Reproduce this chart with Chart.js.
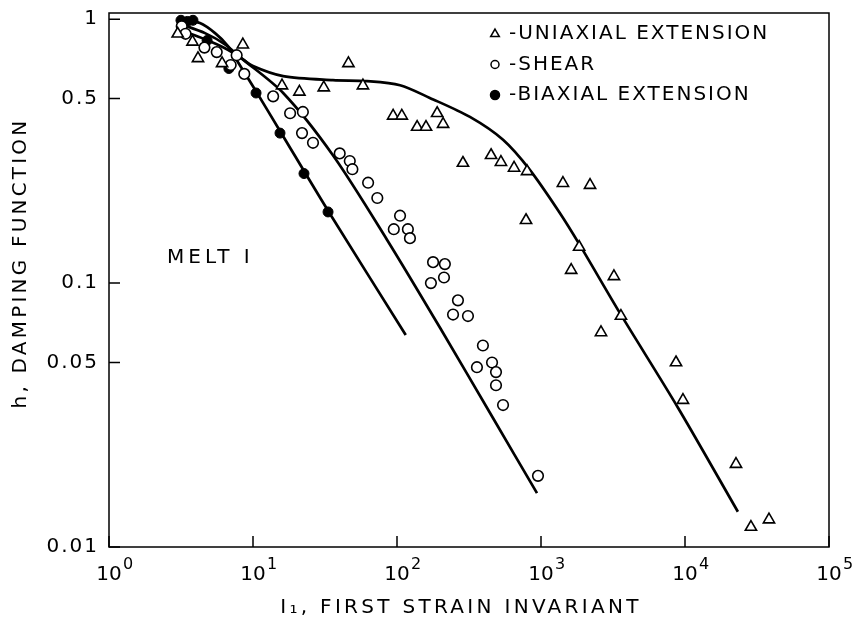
<!DOCTYPE html>
<html>
<head>
<meta charset="utf-8">
<script src="https://cdn.jsdelivr.net/npm/chart.js@4/dist/chart.umd.min.js"></script>
<style>
  html, body { margin: 0; padding: 0; background: #fff; }
  canvas { display: block; }
</style>
</head>
<body>
<canvas id="dampingChart" width="852" height="621"></canvas>
<script>
const uniaxialX = [3.0, 3.8, 4.15, 6.1, 8.5, 15.9, 21, 31, 46, 58, 94, 108, 138, 159, 190, 209, 287, 450, 527, 650, 800, 787, 1420, 2190, 1840, 1620, 3210, 3590, 2610, 8660, 9680, 22600, 28700, 38300];
const uniaxialY = [0.88, 0.82, 0.71, 0.68, 0.80, 0.56, 0.53, 0.55, 0.68, 0.56, 0.43, 0.43, 0.39, 0.39, 0.44, 0.40, 0.285, 0.305, 0.287, 0.273, 0.265, 0.173, 0.239, 0.235, 0.137, 0.112, 0.106, 0.075, 0.065, 0.050, 0.036, 0.0206, 0.0119, 0.0127];

const shearX = [3.2, 3.4, 4.6, 5.6, 7.0, 7.7, 8.7, 13.8, 18.1, 22.2, 21.9, 26.1, 40, 47, 49, 63, 73, 105, 95, 119, 123, 178, 215, 212, 172, 265, 245, 311, 395, 457, 359, 487, 487, 545, 953];
const shearY = [0.94, 0.88, 0.78, 0.75, 0.67, 0.73, 0.62, 0.51, 0.44, 0.445, 0.37, 0.34, 0.31, 0.29, 0.27, 0.24, 0.21, 0.18, 0.16, 0.16, 0.148, 0.120, 0.118, 0.105, 0.100, 0.086, 0.076, 0.075, 0.058, 0.050, 0.048, 0.046, 0.041, 0.0345, 0.0186];

const biaxialX = [3.16, 3.5, 3.83, 4.8, 6.8, 10.5, 15.4, 22.6, 33.2];
const biaxialY = [0.99, 0.98, 0.99, 0.83, 0.65, 0.525, 0.37, 0.26, 0.186];

// Fitted curves
const uniaxialFitX = [3.16, 4.64, 6.39, 8.12, 10.0, 16.2, 35.9, 61.9, 105, 169, 321, 545, 839, 1355, 1866, 3536, 8940, 23300];
const uniaxialFitY = [0.908, 0.839, 0.776, 0.718, 0.664, 0.608, 0.587, 0.582, 0.562, 0.503, 0.426, 0.349, 0.268, 0.184, 0.139, 0.0769, 0.0337, 0.0136];
const shearFitX = [3.16, 4.64, 6.39, 8.12, 16.2, 35.9, 85.2, 199, 464, 938];
const shearFitY = [0.957, 0.885, 0.803, 0.718, 0.525, 0.305, 0.146, 0.0677, 0.0308, 0.0160];
const biaxialFitX = [3.16, 4.28, 5.45, 6.7, 7.87, 10.5, 15.4, 33.2, 115];
const biaxialFitY = [1.0, 0.966, 0.885, 0.791, 0.687, 0.533, 0.377, 0.188, 0.0636];

// Axis ticks
const xTicks = [1, 10, 100, 1000, 10000, 100000];
const xTickExponents = ['0', '1', '2', '3', '4', '5'];
const yTicks = [0.01, 0.05, 0.1, 0.5, 1];
const yTickLabels = ['0.01', '0.05', '0.1', '0.5', '1'];

const legendLabels = ['-UNIAXIAL EXTENSION', '-SHEAR', '-BIAXIAL EXTENSION'];

const FONT = '"DejaVu Sans", sans-serif';

function toPoints(xs, ys) {
  return xs.map((x, i) => ({ x: x, y: ys[i] }));
}

function fitLine(xs, ys) {
  return {
    type: 'line',
    data: toPoints(xs, ys),
    borderColor: '#000',
    borderWidth: 2.7,
    pointRadius: 0,
    fill: false,
    tension: 0.3,
    order: 2,
  };
}

const markerSets = [
  { label: 'Uniaxial', data: toPoints(uniaxialX, uniaxialY), pointStyle: 'triangle', pointRadius: 6.5, backgroundColor: '#fff', borderColor: '#000', pointBorderWidth: 1.6 },
  { label: 'Shear', data: toPoints(shearX, shearY), pointStyle: 'circle', pointRadius: 5.3, backgroundColor: '#fff', borderColor: '#000', pointBorderWidth: 1.6 },
  { label: 'Biaxial', data: toPoints(biaxialX, biaxialY), pointStyle: 'circle', pointRadius: 5, backgroundColor: '#000', borderColor: '#000', pointBorderWidth: 1 },
];

// letter spacing for the old plotter-style lettering
const textSpacing = {
  id: 'textSpacing',
  beforeDraw(chart) {
    chart.ctx.letterSpacing = '2px';
  },
};

// frame, inner ticks, x tick labels, legend, titles
const decorations = {
  id: 'decorations',
  afterDraw(chart) {
    const ctx = chart.ctx;
    const a = chart.chartArea;
    const x = chart.scales.x;
    const y = chart.scales.y;
    ctx.save();
    ctx.strokeStyle = '#000';
    ctx.lineWidth = 1.5;
    ctx.strokeRect(a.left, a.top, a.right - a.left, a.bottom - a.top);

    ctx.beginPath();
    xTicks.forEach(v => {
      const px = x.getPixelForValue(v);
      ctx.moveTo(px, a.bottom);
      ctx.lineTo(px, a.bottom - 11);
    });
    yTicks.forEach(v => {
      const py = y.getPixelForValue(v);
      ctx.moveTo(a.left, py);
      ctx.lineTo(a.left + 11, py);
    });
    ctx.stroke();

    ctx.fillStyle = '#000';
    ctx.textBaseline = 'middle';

    // x tick labels: 10 with raised exponent
    xTicks.forEach((v, i) => {
      const px = x.getPixelForValue(v);
      ctx.letterSpacing = '0px';
      ctx.textAlign = 'center';
      ctx.font = '20px ' + FONT;
      ctx.fillText('10', px, a.bottom + 28);
      ctx.textAlign = 'left';
      ctx.font = '16px ' + FONT;
      ctx.fillText(xTickExponents[i], px + 14, a.bottom + 18);
    });

    // legend inside the plot
    ctx.font = '20px ' + FONT;
    ctx.textAlign = 'left';
    ctx.letterSpacing = '2px';
    const legendStyles = [
      { pointStyle: 'triangle', radius: 5, borderWidth: 1.3, fill: '#fff' },
      { pointStyle: 'circle', radius: 4, borderWidth: 1.3, fill: '#fff' },
      { pointStyle: 'circle', radius: 4.5, borderWidth: 1, fill: '#000' },
    ];
    legendLabels.forEach((text, i) => {
      const ly = a.top + 21 + i * 30.5;
      const mx = a.left + 386;
      ctx.fillStyle = legendStyles[i].fill;
      Chart.helpers.drawPoint(ctx, {
        pointStyle: legendStyles[i].pointStyle,
        radius: legendStyles[i].radius,
        borderWidth: legendStyles[i].borderWidth,
        rotation: 0,
      }, mx, ly);
      ctx.fillStyle = '#000';
      ctx.fillText(text, mx + 14, ly);
    });

    // sample label
    ctx.letterSpacing = '4px';
    ctx.fillText('MELT I', a.left + 58, a.top + 245);

    // axis titles
    ctx.textAlign = 'center';
    ctx.letterSpacing = '3.3px';
    ctx.fillText('I₁, FIRST STRAIN INVARIANT', (a.left + a.right) / 2 - 8, 608);

    ctx.translate(21, a.top + 250);
    ctx.rotate(-Math.PI / 2);
    ctx.letterSpacing = '3.2px';
    ctx.fillText('h, DAMPING FUNCTION', 0, 0);
    ctx.restore();
  },
};

function noScalePadding(scale) {
  scale.paddingTop = 0;
  scale.paddingBottom = 0;
  scale.paddingLeft = 0;
  scale.paddingRight = 0;
}

const chart = new Chart(document.getElementById('dampingChart').getContext('2d'), {
  type: 'scatter',
  data: {
    datasets: [
      ...markerSets.map(s => Object.assign({ order: 1 }, s)),
      fitLine(uniaxialFitX, uniaxialFitY),
      fitLine(shearFitX, shearFitY),
      fitLine(biaxialFitX, biaxialFitY),
    ],
  },
  options: {
    responsive: false,
    animation: false,
    devicePixelRatio: 1,
    layout: { padding: { top: 13, right: 23, left: 0, bottom: 0 } },
    plugins: {
      legend: { display: false },
      tooltip: { enabled: false },
    },
    scales: {
      x: {
        type: 'logarithmic',
        min: 1,
        max: 100000,
        grid: { display: false, drawTicks: false },
        border: { display: false },
        afterBuildTicks(scale) {
          scale.ticks = xTicks.map(v => ({ value: v }));
        },
        afterFit(scale) {
          scale.height = 74;
          noScalePadding(scale);
        },
        ticks: { display: false },
      },
      y: {
        type: 'logarithmic',
        min: 0.01,
        max: 1.055,
        grid: { display: false, drawTicks: false },
        border: { display: false },
        afterBuildTicks(scale) {
          scale.ticks = yTicks.map(v => ({ value: v }));
        },
        afterFit(scale) {
          scale.width = 109;
          noScalePadding(scale);
        },
        ticks: {
          color: '#000',
          font: { family: FONT, size: 20 },
          padding: 10,
          autoSkip: false,
          callback: (v, i) => yTickLabels[i],
        },
      },
    },
  },
  plugins: [textSpacing, decorations],
});
</script>
</body>
</html>
